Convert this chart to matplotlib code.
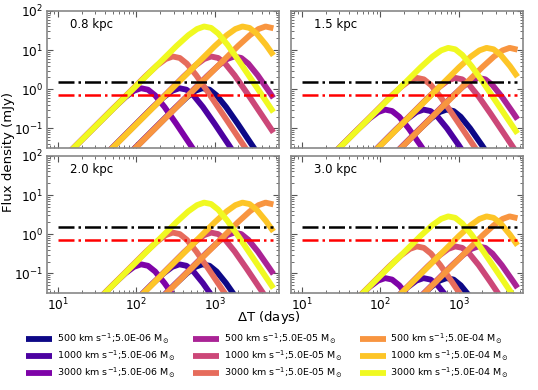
"""Radio light curves at four distances, 3x3 velocity / ejecta-mass grid."""

import matplotlib
matplotlib.use("Agg")
import matplotlib.pyplot as plt
import numpy as np

# Distances of the four panels (kpc); fluxes below are read at 0.8 kpc.
distances = [0.8, 1.5, 2.0, 3.0]
base_distance = 0.8

velocities = [500, 1000, 3000, 500, 1000, 3000, 500, 1000, 3000]
masses = ["5.0E-06"] * 3 + ["5.0E-05"] * 3 + ["5.0E-04"] * 3

# Light curve points (days, mJy).
days_500_5e6 = [10, 313, 442, 569, 700, 861, 1059, 1396, 1972, 3126, 5623]
flux_500_5e6 = [3.4e-4, 0.328, 0.625, 0.914, 1.06, 0.973, 0.695, 0.352, 0.131, 0.0331, 0.00569]
days_1000_5e6 = [10, 158, 224, 288, 355, 437, 537, 708, 1000, 1585, 5623]
flux_1000_5e6 = [1.3e-3, 0.328, 0.625, 0.914, 1.06, 0.973, 0.695, 0.352, 0.131, 0.0331, 7.4e-4]
days_3000_5e6 = [10, 51.3, 72.4, 93.3, 115, 141, 174, 229, 324, 513, 5623]
flux_3000_5e6 = [0.0126, 0.328, 0.625, 0.914, 1.06, 0.973, 0.695, 0.352, 0.131, 0.0331, 2.5e-5]

days_500_5e5 = [10, 794, 1122, 1445, 1778, 2188, 2692, 3548, 5012, 5623]
flux_500_5e5 = [3.4e-4, 2.12, 4.04, 5.90, 6.85, 6.28, 4.49, 2.27, 0.843, 0.599]
days_1000_5e5 = [10, 403, 569, 733, 902, 1109, 1365, 1799, 2541, 4027, 5623]
flux_1000_5e5 = [1.3e-3, 2.12, 4.04, 5.90, 6.85, 6.28, 4.49, 2.27, 0.843, 0.214, 0.0785]
days_3000_5e5 = [10, 130, 184, 237, 292, 359, 442, 582, 822, 1303, 5623]
flux_3000_5e5 = [0.0126, 2.12, 4.04, 5.90, 6.85, 6.28, 4.49, 2.27, 0.843, 0.214, 0.00266]

days_500_5e4 = [10, 1995, 2818, 3631, 4467, 5623]
flux_500_5e4 = [3.4e-4, 12.8, 24.0, 34.5, 40.0, 36.0]
days_1000_5e4 = [10, 1012, 1429, 1841, 2265, 2786, 3428, 4519, 5623]
flux_1000_5e4 = [1.3e-3, 12.8, 24.0, 34.5, 40.0, 36.8, 26.5, 13.6, 7.3]
days_3000_5e4 = [10, 327, 462, 596, 733, 902, 1109, 1462, 2065, 3273, 5623]
flux_3000_5e4 = [0.0126, 12.8, 24.0, 34.5, 40.0, 36.8, 26.5, 13.6, 5.1, 1.3, 0.26]

curve_days = [days_500_5e6, days_1000_5e6, days_3000_5e6,
              days_500_5e5, days_1000_5e5, days_3000_5e5,
              days_500_5e4, days_1000_5e4, days_3000_5e4]
curve_flux = [flux_500_5e6, flux_1000_5e6, flux_3000_5e6,
              flux_500_5e5, flux_1000_5e5, flux_3000_5e5,
              flux_500_5e4, flux_1000_5e4, flux_3000_5e4]

# Detection thresholds (mJy) and the span they are drawn over (days).
threshold_black = 1.5
threshold_red = 0.7
threshold_days = [10, 5600]

colors = plt.cm.plasma(np.linspace(0, 1, 9))

figure, axes = plt.subplots(2, 2, sharex=True, sharey=True, figsize=(5.38, 3.9), dpi=100)
figure.subplots_adjust(left=0.087, right=0.972, top=0.972, bottom=0.249,
                       wspace=0.052, hspace=0.058)

handles = []
for axis, distance in zip(axes.flat, distances):
    scale = (base_distance / distance) ** 2
    for i in range(9):
        line, = axis.plot(curve_days[i], np.array(curve_flux[i]) * scale,
                          color=colors[i], linewidth=4.2, solid_capstyle="butt")
        if distance == distances[0]:
            handles.append(line)
    axis.plot(threshold_days, [threshold_black] * 2, color="black",
              linestyle="-.", linewidth=1.8)
    axis.plot(threshold_days, [threshold_red] * 2, color="red",
              linestyle="-.", linewidth=1.8)
    axis.text(0.1, 0.9, "{:.1f} kpc".format(distance), transform=axis.transAxes,
              ha="left", va="center", fontsize=8.5)

    axis.set_xscale("log")
    axis.set_yscale("log")
    axis.set_xlim(7.2, 6600)
    axis.set_ylim(10 ** -1.5, 100)
    axis.tick_params(which="both", direction="in", top=True, right=True,
                     color="#555555", labelsize=8.7, pad=2.5)
    axis.tick_params(which="major", length=4)
    axis.tick_params(which="minor", length=2)
    for spine in axis.spines.values():
        spine.set_color("#888888")
        spine.set_linewidth(1.2)

labels = ["{} km s$^{{-1}}$;{} M$_{{\\odot}}$".format(v, m) for v, m in zip(velocities, masses)]
figure.legend(handles, labels, loc="center", bbox_to_anchor=(0.497, 0.087),
              ncol=3, frameon=False, fontsize=6.8, handlelength=2.75,
              handletextpad=0.5, columnspacing=1.9, labelspacing=0.32)

figure.text(0.016, 0.61, "Flux density (mJy)", rotation=90, ha="center",
            va="center", fontsize=9.5)
figure.text(0.5, 0.185, "$\\Delta$T (days)", ha="center", va="center", fontsize=9.5)

figure.savefig("out.png", dpi=100)
